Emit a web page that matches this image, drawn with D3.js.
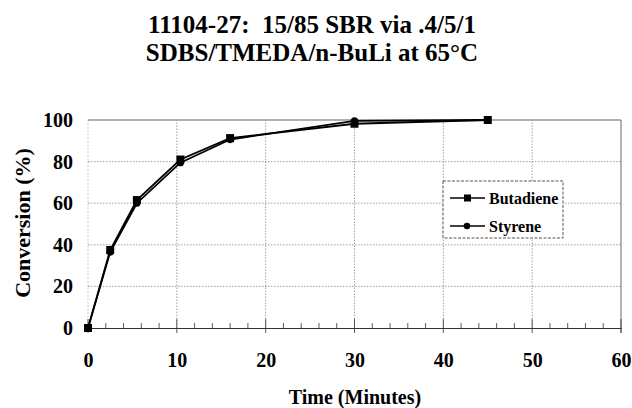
<!DOCTYPE html>
<html><head><meta charset="utf-8">
<script src="https://cdn.jsdelivr.net/npm/d3@7"></script>
<style>body{margin:0;background:#fff}svg{display:block}text{font-family:"Liberation Serif","Times New Roman",serif;font-weight:bold;fill:#000;white-space:pre}</style>
</head><body><svg id="c" width="632" height="408"></svg>
<script>
const titleLines = ["11104-27:  15/85 SBR via .4/5/1", "SDBS/TMEDA/n-BuLi at 65°C"];
const times = [0, 2.5, 5.5, 10.4, 16, 30, 45];
const butadiene = [0, 37.5, 61.5, 81, 91.3, 98.2, 100];
const styrene = [0, 36.5, 60, 79.5, 90.6, 99.6, 100];
const xTicks = [0, 10, 20, 30, 40, 50, 60];
const yTicks = [0, 20, 40, 60, 80, 100];
const seriesNames = ["Butadiene", "Styrene"];

const svg = d3.select("#c");
const x = d3.scaleLinear().domain([0, 60]).range([88, 621]);
const y = d3.scaleLinear().domain([0, 100]).range([328, 120]);

// title
svg.selectAll("text.title").data(titleLines).enter().append("text")
  .attr("x", 312).attr("y", (d, i) => 33 + i * 28).attr("text-anchor", "middle")
  .style("font-size", "25px").text(d => d);

// grid
const g = svg.append("g");
g.selectAll("line.hg").data(yTicks.filter(t => t > 0 && t < 100)).enter().append("line")
  .attr("x1", x(0)).attr("x2", x(60)).attr("y1", d => y(d)).attr("y2", d => y(d))
  .attr("stroke", "#888").attr("stroke-width", 0.8).attr("stroke-dasharray", "1.5,1.5");
g.selectAll("line.vg").data(xTicks.filter(t => t > 0 && t < 60)).enter().append("line")
  .attr("x1", d => x(d)).attr("x2", d => x(d)).attr("y1", y(0)).attr("y2", y(100))
  .attr("stroke", "#888").attr("stroke-width", 0.8).attr("stroke-dasharray", "1.5,1.5");
g.append("line").attr("x1", x(0)).attr("x2", x(0)).attr("y1", y(0)).attr("y2", y(100))
  .attr("stroke", "#aaa").attr("stroke-width", 0.8).attr("stroke-dasharray", "1.5,2");
g.append("line").attr("x1", x(0)).attr("x2", x(60)).attr("y1", y(100)).attr("y2", y(100))
  .attr("stroke", "#999").attr("stroke-width", 1.5);
g.append("line").attr("x1", x(60)).attr("x2", x(60)).attr("y1", y(100)).attr("y2", y(0) + 5)
  .attr("stroke", "#666").attr("stroke-width", 1);

// x axis
const xAxis = d3.axisBottom(x).tickValues(xTicks).tickSize(0).tickPadding(25).tickFormat(d3.format("d"));
const xa = svg.append("g").attr("transform", `translate(0,${y(0)})`).call(xAxis);
xa.select(".domain").attr("stroke", "#333").attr("stroke-width", 1);
xa.selectAll("text").style("font-size", "20px").style("font-family", '"Liberation Serif",serif').style("font-weight", "bold");
const minor = d3.range(0, 61, 2);
svg.append("g").selectAll("line").data(minor).enter().append("line")
  .attr("x1", d => x(d)).attr("x2", d => x(d))
  .attr("y1", d => d % 10 === 0 ? y(0) + 5 : y(0))
  .attr("y2", d => d % 10 === 0 ? y(0) - 9 : y(0) - 5)
  .attr("stroke", "#333").attr("stroke-width", 0.8);

// y axis labels
const yAxis = d3.axisLeft(y).tickValues(yTicks).tickSize(0).tickPadding(15);
const ya = svg.append("g").attr("transform", `translate(${x(0)},0)`).call(yAxis);
ya.select(".domain").remove();
ya.selectAll("text").style("font-size", "20px").style("font-family", '"Liberation Serif",serif').style("font-weight", "bold");

// axis titles
svg.append("text").attr("x", 355).attr("y", 404).attr("text-anchor", "middle")
  .style("font-size", "20px").text("Time (Minutes)");
svg.append("text").attr("transform", "translate(30,223) rotate(-90)").attr("text-anchor", "middle")
  .style("font-size", "22px").text("Conversion (%)");

// lines
const line = d3.line().x(d => x(d[0])).y(d => y(d[1]));
const bd = times.map((t, i) => [t, butadiene[i]]);
const st = times.map((t, i) => [t, styrene[i]]);
svg.append("path").datum(st).attr("d", line).attr("fill", "none").attr("stroke", "#000").attr("stroke-width", 1.8);
svg.append("path").datum(bd).attr("d", line).attr("fill", "none").attr("stroke", "#000").attr("stroke-width", 1.8);
svg.append("g").selectAll("circle").data(st).enter().append("circle")
  .attr("cx", d => x(d[0])).attr("cy", d => y(d[1])).attr("r", 3.6).attr("fill", "#000");
svg.append("g").selectAll("rect").data(bd).enter().append("rect")
  .attr("x", d => x(d[0]) - 4).attr("y", d => y(d[1]) - 4).attr("width", 8).attr("height", 8).attr("fill", "#000");

// legend
const lg = svg.append("g");
lg.append("rect").attr("x", 443).attr("y", 181).attr("width", 120).attr("height", 57)
  .attr("fill", "#fff").attr("stroke", "#555").attr("stroke-width", 1).attr("stroke-dasharray", "3,1.5");
seriesNames.forEach((n, i) => {
  const cy = 198 + i * 28;
  lg.append("line").attr("x1", 450).attr("x2", 485).attr("y1", cy).attr("y2", cy).attr("stroke", "#000").attr("stroke-width", 1.4);
  if (i === 0) lg.append("rect").attr("x", 464).attr("y", cy - 3.5).attr("width", 7).attr("height", 7).attr("fill", "#000");
  else lg.append("circle").attr("cx", 467).attr("cy", cy).attr("r", 3.3).attr("fill", "#000");
  lg.append("text").attr("x", 489).attr("y", cy + 5.5).style("font-size", "16px").text(n);
});
</script></body></html>
